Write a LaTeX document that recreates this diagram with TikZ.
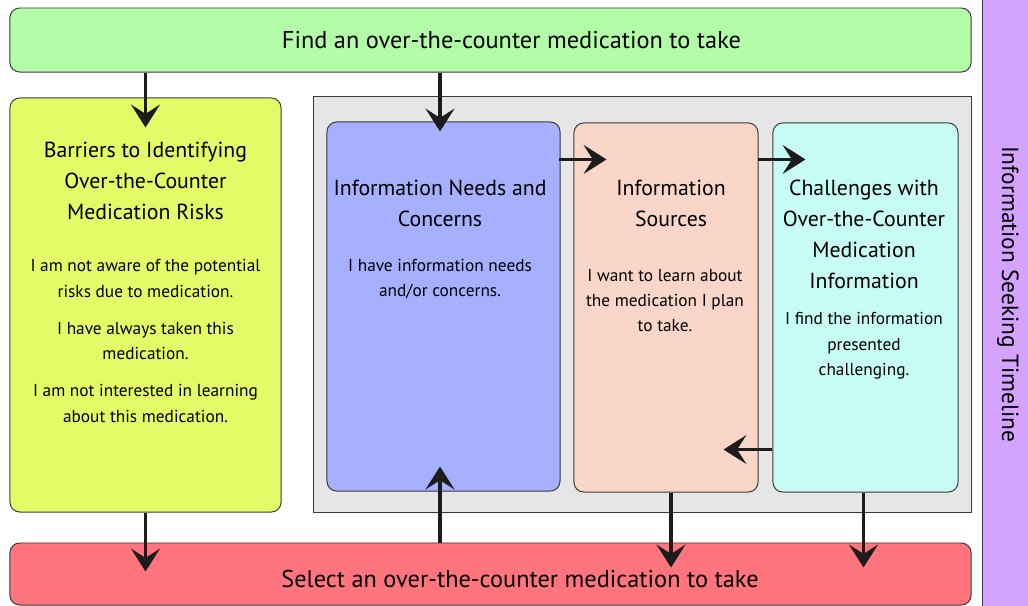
\documentclass[tikz,border=0pt]{standalone}
\usepackage{fontspec}
\setmainfont{PT Sans}
\usetikzlibrary{arrows.meta,calc}
\usepackage{xcolor}
\definecolor{findgreen}{HTML}{B3FDA8}
\definecolor{barrieryellow}{HTML}{E4FA66}
\definecolor{panelgray}{HTML}{E6E6E6}
\definecolor{needsblue}{HTML}{A6B0FF}
\definecolor{sourcepeach}{HTML}{FAD6C9}
\definecolor{challengecyan}{HTML}{C6FCF4}
\definecolor{selectred}{HTML}{FF747D}
\definecolor{timelinepurple}{HTML}{D4A2FF}
\definecolor{edgegray}{HTML}{3A3A3A}
\definecolor{arrowblack}{HTML}{1C1C1C}

\begin{document}
\begin{tikzpicture}[x=0.025cm, y=-0.025cm,
      box/.style={draw=edgegray, line width=0.7pt, rounded corners=7pt,
                  inner sep=0pt},
      title/.style={align=center, font=\fontsize{15.5}{22}\selectfont},
      body/.style={align=center, font=\fontsize{12.3}{18}\selectfont},
      arr/.style={-{Stealth[length=0.57cm, width=0.72cm, inset=0.23cm]},
                  line width=2.4pt, color=arrowblack}
    ]
    \clip (0,0) rectangle (1028,606);

    % Side band
    \draw[draw=edgegray, line width=0.7pt, fill=timelinepurple]
      (982,-10) rectangle (1040,616);
    \node[rotate=-90, font=\fontsize{16.6}{19}\selectfont] (timeline) at (1008,294)
      {Information Seeking Timeline};

    % Start and end steps
    \node[box, fill=findgreen, minimum width=24.025cm, minimum height=1.6cm]
      (find) at (490.5,40) {};
    \node[font=\fontsize{17.3}{20}\selectfont] (findtext) at (511.5,40)
      {Find an over-the-counter medication to take};

    \node[box, fill=selectred, minimum width=24.025cm, minimum height=1.55cm]
      (select) at (490.5,574) {};
    \node[font=\fontsize{17.3}{20}\selectfont] (selecttext) at (520,579)
      {Select an over-the-counter medication to take};

    % Barriers
    \node[box, fill=barrieryellow, minimum width=6.775cm, minimum height=10.35cm]
      (barrier) at (145.5,305) {};
    \node[title] (barriertitle) at (145.5,180.5)
      {Barriers to Identifying\\Over-the-Counter\\Medication Risks};
    \node[body] (barrierbody) at (145.5,341)
      {I am not aware of the potential\\risks due to medication.\\[8.5pt]
       I have always taken this\\medication.\\[8.5pt]
       I am not interested in learning\\about this medication.};

    % Information seeking panel
    \node[draw=edgegray, line width=0.7pt, fill=panelgray, inner sep=0pt,
          minimum width=16.425cm, minimum height=10.375cm]
      (panel) at (642.5,304.5) {};

    \node[box, fill=needsblue, minimum width=5.825cm, minimum height=9.225cm]
      (needs) at (443.5,306.5) {};
    \node[title] (needstitle) at (440,203)
      {Information Needs and\\Concerns};
    \node[body] (needsbody) at (440,279)
      {I have information needs\\and/or concerns.};

    \node[box, fill=sourcepeach, minimum width=4.6cm, minimum height=9.225cm]
      (sources) at (666,307.5) {};
    \node[title] (sourcestitle) at (671,203)
      {Information\\Sources};
    \node[body] (sourcesbody) at (665,300.5)
      {I want to learn about\\the medication I plan\\to take.};

    \node[box, fill=challengecyan, minimum width=4.625cm, minimum height=9.225cm]
      (challenges) at (865.5,307.5) {};
    \node[title] (challengestitle) at (864,234.5)
      {Challenges with\\Over-the-Counter\\Medication\\Information};
    \node[body] (challengesbody) at (864,346)
      {I find the information\\presented\\challenging.};

    % Connectors
    \draw[arr] (find.south -| barrier.north) -- ($(barrier.north)+(0,30)$);
    \draw[arr] (find.south -| needstitle) -- ($(needs.north -| needstitle)+(0,10)$);
    \draw[arr] ($(needs.north east)+(-2,38)$) -- ($(sources.north west)+(33,37)$);
    \draw[arr] ($(sources.north east)+(-1,37)$) -- ($(challenges.north west)+(33,37)$);
    \draw[arr] ($(challenges.south west)+(0,-43)$) -- ($(sources.south east)+(-35,-43)$);
    \draw[arr] (barrier.south) -- ($(barrier.south |- select.north)+(0,29)$);
    \draw[arr] (select.north -| needstitle) -- ($(needs.south -| needstitle)+(0,-25)$);
    \draw[arr] (sources.south -| sourcestitle) -- ($(select.north -| sourcestitle)+(0,25)$);
    \draw[arr] ($(challenges.south)+(-2,0)$) -- ($(select.north -| challenges.south)+(-2,25)$);

  \end{tikzpicture}
\end{document}
